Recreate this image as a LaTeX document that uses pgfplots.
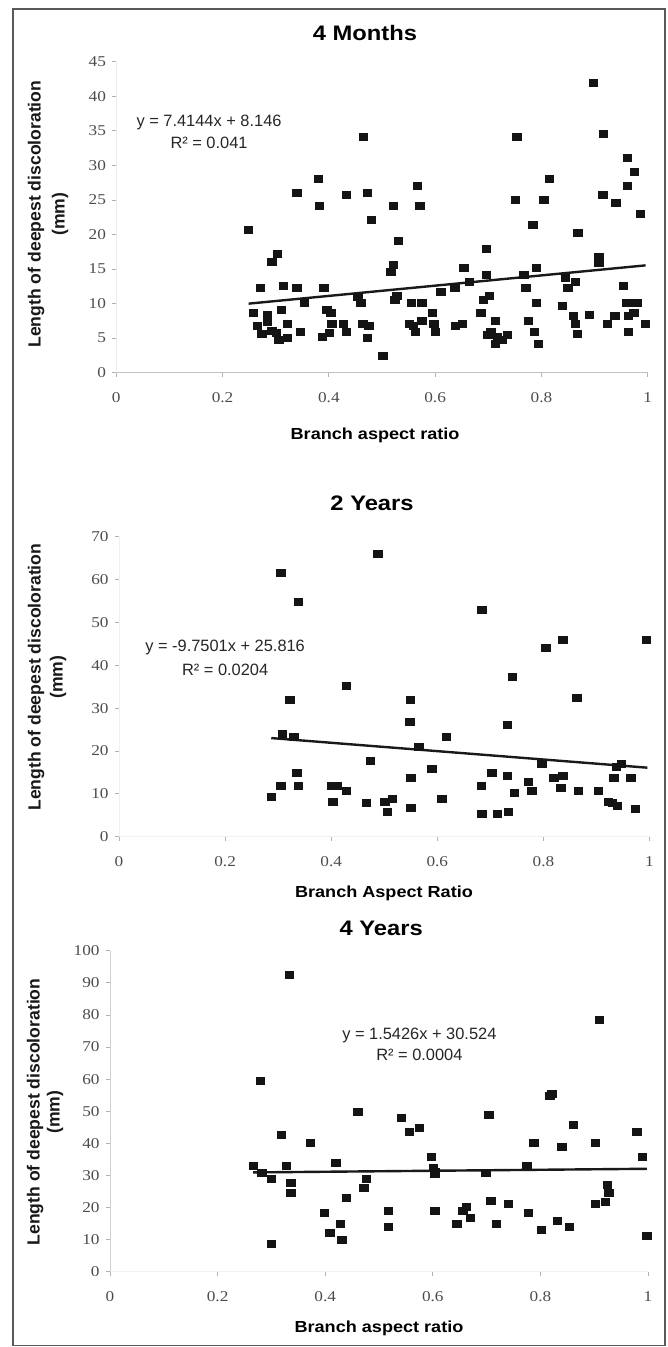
\documentclass[border=0pt]{standalone}
\usepackage{fontspec}
\setmainfont{Liberation Serif}
\newfontfamily\tickfont{Liberation Serif}[FakeStretch=1.15]
\newfontfamily\headfont{Liberation Sans}[FakeStretch=1.13]
\newfontfamily\labfont{Liberation Sans}
\usepackage{pgfplots}
\pgfplotsset{compat=1.18}

\pgfplotsset{
  panel/.style={
    scale only axis, clip=false,
    xmin=0, xmax=1, ymin=0,
    axis lines*=left,
    tick align=outside, major tick length=2pt,
    tick style={black!30, line width=0.4pt},
    xtick={0,0.2,0.4,0.6,0.8,1},
    xticklabels={0,0.2,0.4,0.6,0.8,1},
    /pgf/number format/assume math mode=true,
    tick label style={font=\tickfont\fontsize{7.5}{9}\selectfont, text=black!70},
    xticklabel style={anchor=center, yshift=-10.5pt},
    yticklabel style={anchor=east, inner sep=0pt, xshift=-3pt},
    title style={anchor=center, font=\headfont\bfseries\fontsize{10.5}{12}\selectfont},
    xlabel style={anchor=center, font=\headfont\bfseries\fontsize{8}{10}\selectfont},
    ylabel style={anchor=center, align=center, text=black!90},
  },
  pts/.style={only marks, mark=square*, mark size=1.75pt,
    mark options={xscale=1.2, fill=black!92, draw=black!92}},
  fit/.style={no marks, line width=1.2pt, black!90},
}
\tikzset{
  eq/.style={font=\labfont\fontsize{8.2}{#1}\selectfont, align=center, text=black!85},
}

\begin{document}
\begin{tikzpicture}
\useasboundingbox (0,0) rectangle (334pt,-673.5pt);
\draw[black!65, line width=0.8pt] (6.35pt,-4.65pt) rectangle (332.5pt,-672.75pt);

% 4 Months
\begin{axis}[panel,
  at={(58.15pt,-186.35pt)}, anchor=south west,
  width=265.7pt, height=155.5pt,
  ymax=45, ytick={0,5,...,45},
  x axis line style={black!25}, y axis line style={black!8},
  title={4 Months},
  title style={at={(axis description cs:0.468,1.0534)}},
  xlabel={Branch aspect ratio},
  xlabel style={at={(axis description cs:0.487,-0.2003)}},
  ylabel={Length of deepest discoloration\\(mm)},
  ylabel style={at={(axis description cs:-0.1285,0.51)},
    font=\labfont\bfseries\fontsize{8.8}{12}\selectfont},
]
\addplot[pts] table {
x y
0.249 20.6
0.258 8.6
0.266 6.7
0.271 12.2
0.274 5.6
0.284 8.3
0.284 7.3
0.293 16.0
0.303 17.2
0.293 6.0
0.301 5.8
0.306 4.7
0.311 9.1
0.314 12.5
0.322 7.1
0.322 5.1
0.340 26.0
0.340 12.2
0.346 5.9
0.354 10.1
0.380 28.0
0.382 24.1
0.391 12.2
0.396 9.1
0.388 5.2
0.401 5.7
0.404 8.6
0.406 7.1
0.427 7.1
0.433 25.7
0.433 5.9
0.455 10.9
0.460 10.1
0.465 34.1
0.464 7.1
0.472 26.0
0.475 6.7
0.472 5.1
0.480 22.1
0.502 2.4
0.517 14.6
0.521 15.6
0.521 24.1
0.524 10.5
0.528 11.1
0.531 19.1
0.551 7.1
0.555 10.1
0.559 6.7
0.563 5.9
0.567 27.1
0.571 24.1
0.575 10.1
0.575 7.5
0.595 8.6
0.598 7.1
0.600 5.9
0.611 11.7
0.637 12.2
0.638 6.7
0.651 7.1
0.654 15.1
0.664 13.2
0.686 8.6
0.696 17.9
0.696 14.1
0.691 10.5
0.702 11.1
0.713 7.5
0.699 5.4
0.705 5.9
0.713 4.1
0.717 5.2
0.727 4.8
0.736 5.5
0.754 34.1
0.751 25.0
0.767 14.1
0.771 12.2
0.775 7.5
0.784 21.4
0.791 15.1
0.791 10.1
0.787 5.9
0.794 4.1
0.805 25.0
0.815 28.0
0.839 9.6
0.845 13.7
0.850 12.2
0.860 8.2
0.864 7.1
0.864 13.2
0.868 5.6
0.869 20.3
0.890 8.3
0.898 41.9
0.908 16.7
0.908 15.9
0.916 25.7
0.917 34.5
0.924 7.1
0.938 8.2
0.940 24.5
0.954 12.5
0.962 31.1
0.962 27.1
0.961 10.1
0.964 8.2
0.964 5.9
0.975 29.1
0.974 8.6
0.980 10.1
0.986 23.0
0.996 7.1
};
\addplot[fit] coordinates {(0.249,9.992) (0.996,15.531)};
\node[eq=11.3pt] at (axis description cs:0.1745,0.774)
  {y = 7.4144x + 8.146\\R² = 0.041};
\end{axis}

% 2 Years
\begin{axis}[panel,
  at={(59.5pt,-418.35pt)}, anchor=south west,
  width=265.25pt, height=150pt,
  ymax=70, ytick={0,10,...,70},
  x axis line style={black!6}, y axis line style={black!6},
  title={2 Years},
  title style={at={(axis description cs:0.477,1.072)}},
  xlabel={Branch Aspect Ratio},
  xlabel style={at={(axis description cs:0.4995,-0.1877)}},
  ylabel={Length of deepest discoloration\\(mm)},
  ylabel style={at={(axis description cs:-0.1357,0.532)},
    font=\labfont\bfseries\fontsize{8.8}{11}\selectfont},
]
\addplot[pts] table {
x y
0.287 9.3
0.305 11.8
0.305 61.6
0.308 24.0
0.322 31.9
0.330 23.2
0.335 14.9
0.338 11.8
0.338 54.9
0.400 11.8
0.411 11.8
0.403 8.2
0.429 35.2
0.429 10.7
0.466 7.8
0.474 17.7
0.488 66.1
0.501 8.2
0.506 5.8
0.515 8.9
0.549 31.9
0.548 26.8
0.550 13.8
0.550 6.8
0.565 21.0
0.590 15.9
0.609 8.9
0.617 23.3
0.684 52.9
0.683 11.8
0.684 5.4
0.703 14.9
0.713 5.4
0.732 14.3
0.732 26.0
0.734 5.8
0.742 37.2
0.745 10.3
0.772 12.8
0.778 10.7
0.797 17.1
0.805 44.0
0.820 13.8
0.833 11.4
0.837 14.3
0.837 45.9
0.863 32.5
0.866 10.7
0.904 10.7
0.922 8.1
0.930 7.8
0.933 13.8
0.938 16.2
0.939 7.2
0.947 17.0
0.965 13.8
0.973 6.4
0.994 45.9
};
\addplot[fit] coordinates {(0.287,23.018) (0.996,16.105)};
\node[eq=11.8pt] at (axis description cs:0.2,0.597)
  {y = -9.7501x + 25.816\\R² = 0.0204};
\end{axis}

% 4 Years
\begin{axis}[panel,
  at={(55pt,-635.85pt)}, anchor=south west,
  width=269pt, height=160.5pt,
  ymax=100, ytick={0,10,...,100},
  x axis line style={black!5}, y axis line style={black!18},
  title={4 Years},
  title style={at={(axis description cs:0.504,1.0336)}},
  xlabel={Branch aspect ratio},
  xlabel style={at={(axis description cs:0.5,-0.175)}},
  ylabel={Length of deepest discoloration\\(mm)},
  ylabel style={at={(axis description cs:-0.1208,0.4975)},
    font=\labfont\bfseries\fontsize{8.8}{10}\selectfont},
]
\addplot[pts] table {
x y
0.266 33.0
0.279 59.5
0.282 30.7
0.300 28.9
0.300 8.8
0.319 42.7
0.328 33.0
0.333 92.6
0.336 27.8
0.336 24.7
0.372 40.0
0.399 18.3
0.409 12.1
0.420 34.0
0.428 15.0
0.431 9.8
0.439 23.1
0.461 49.7
0.472 26.2
0.477 28.9
0.518 19.1
0.517 14.0
0.542 47.9
0.556 43.7
0.575 44.8
0.597 35.9
0.601 32.2
0.605 31.1
0.604 30.5
0.604 19.1
0.645 15.0
0.656 19.1
0.662 20.2
0.670 16.9
0.699 30.7
0.704 48.9
0.708 22.0
0.718 15.0
0.740 21.0
0.775 33.0
0.778 18.3
0.788 40.0
0.802 12.9
0.818 54.9
0.821 55.5
0.832 15.8
0.840 38.8
0.854 14.0
0.861 45.6
0.902 40.0
0.902 21.0
0.910 78.5
0.921 21.8
0.924 27.0
0.927 24.7
0.979 43.7
0.990 35.9
0.998 11.3
};
\addplot[fit] coordinates {(0.266,30.934) (0.998,32.064)};
\node[eq=10.8pt] at (axis description cs:0.575,0.7087)
  {y = 1.5426x + 30.524\\R² = 0.0004};
\end{axis}
\end{tikzpicture}
\end{document}
